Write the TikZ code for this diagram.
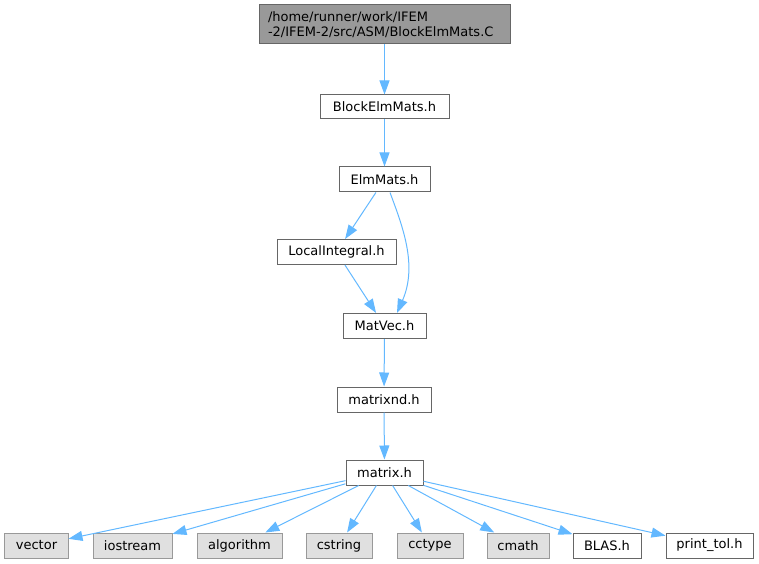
\documentclass[tikz,border=0pt]{standalone}
\usepackage{fontspec}
\setmainfont{DejaVu Sans}
\usetikzlibrary{arrows.meta}
\definecolor{edgeblue}{HTML}{63B8FF}
\definecolor{graybox}{HTML}{E0E0E0}
\definecolor{grayborder}{HTML}{999999}
\definecolor{darkborder}{HTML}{666666}
\definecolor{topfill}{HTML}{999999}
\tikzset{
  filebox/.style={draw=darkborder, fill=white, line width=1bp, minimum height=25bp, inner sep=0pt, font=\fontsize{13bp}{15bp}\selectfont, text=black},
  sysbox/.style={draw=grayborder, fill=graybox, line width=1bp, minimum height=25bp, inner sep=0pt, font=\fontsize{13bp}{15bp}\selectfont, text=black},
  dep/.style={draw=edgeblue, line width=1bp, -{Triangle[length=14bp,width=10bp]}},
}
\begin{document}
\begin{tikzpicture}[x=1bp,y=-1bp]
\useasboundingbox (0,0) rectangle (759,564);
\node[draw=darkborder, fill=topfill, line width=1bp, minimum width=251bp, minimum height=39bp, inner sep=0pt, font=\fontsize{13bp}{15bp}\selectfont, align=left, text width=233bp] (top) at (384.5,24.5) {/home/runner/work/IFEM\\-2/IFEM-2/src/ASM/BlockElmMats.C};
\node[filebox, minimum width=129bp, minimum height=24bp] (block) at (384.5,107) {BlockElmMats.h};
\node[filebox, minimum width=91bp] (elm) at (384.5,179.5) {ElmMats.h};
\node[filebox, minimum width=119bp] (local) at (336.5,252) {LocalIntegral.h};
\node[filebox, minimum width=83bp] (matvec) at (384.5,326) {MatVec.h};
\node[filebox, minimum width=94bp] (matrixnd) at (384,399.5) {matrixnd.h};
\node[filebox, minimum width=77bp] (matrix) at (384.5,472.5) {matrix.h};
\node[sysbox, minimum width=63bp] (vector) at (36.5,545.5) {vector};
\node[sysbox, minimum width=79bp] (iostream) at (132.5,545.5) {iostream};
\node[sysbox, minimum width=85bp] (algorithm) at (239.5,545.5) {algorithm};
\node[sysbox, minimum width=66bp] (cstring) at (339,545.5) {cstring};
\node[sysbox, minimum width=66bp] (cctype) at (430,545.5) {cctype};
\node[sysbox, minimum width=62bp] (cmath) at (518,545.5) {cmath};
\node[filebox, minimum width=68bp] (blas) at (607,545.5) {BLAS.h};
\node[filebox, minimum width=87bp] (printtol) at (709.5,545.5) {print\_tol.h};
\coordinate (e2) at ([xshift=5.5bp]elm.south);
\coordinate (m2) at ([xshift=12.5bp]matvec.north);
\draw[dep] (top) -- (block);
\draw[dep] (block) -- (elm);
\draw[dep] (elm) -- (local);
\draw[dep] (local) -- (matvec);
\draw[dep] (e2) .. controls (402,225) and (418,265) .. (m2);
\draw[dep] (matvec) -- (matrixnd);
\draw[dep] (matrixnd) -- (matrix);
\draw[dep] (matrix) -- (vector);
\draw[dep] (matrix) -- (iostream);
\draw[dep] (matrix) -- (algorithm);
\draw[dep] (matrix) -- (cstring);
\draw[dep] (matrix) -- (cctype);
\draw[dep] (matrix) -- (cmath);
\draw[dep] (matrix) -- (blas);
\draw[dep] (matrix) -- (printtol);
\end{tikzpicture}
\end{document}
